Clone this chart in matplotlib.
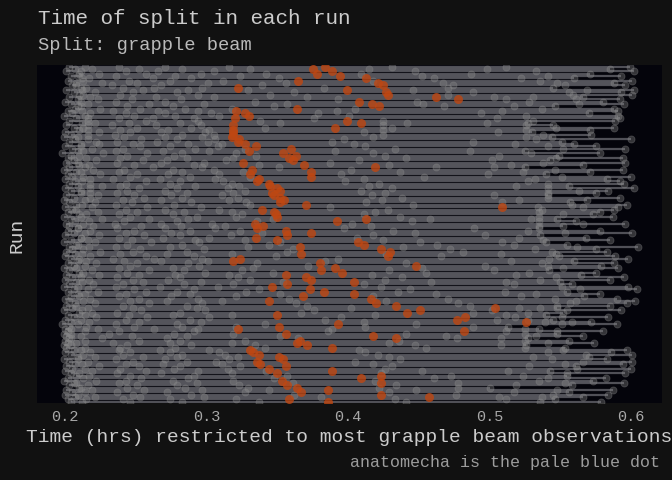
import matplotlib
matplotlib.use("Agg")
import matplotlib.pyplot as plt

plt.rcParams["font.family"] = ["Liberation Mono", "DejaVu Sans Mono"]

# time (hrs) of the grapple beam split, one value per run (top to bottom)
grapple = [
    .384, .375, .389, .378, .394, .413, .365, .421, .425, .322,
    .399, .427, .428, .462, .478, .408, .417, .422, .364, .321,
    .327, .330, .320, .399, .409, .319, .391, .319, .319, .319,
    .318, .323, .322, .327, .335, .360, .330, .354, .363, .358,
    .361, .326, .369, .419, .332, .374, .331, .374, .337, .336,
    .344, .345, .350, .352, .346, .348, .352, .355, .352, .370,
    .509, .339, .348, .349, .350, .413, .392, .334, .340, .336,
    .356, .374, .357, .335, .350, .407, .411, .366, .423, .430,
    .367, .428, .324, .319, .380, .448, .391, .381, .396, .356,
    .370, .374, .404, .357, .346, .373, .383, .404, .368, .416,
    .344, .420, .434, .504, .451, .442, .350, .483, .477, .526,
    .393, .351, .322, .482, .356, .418, .434, .366, .364, .371,
    .389, .331, .333, .337, .351, .354, .336, .338, .356, .344,
    .389, .350, .423, .409, .353, .423, .357, .364, .386, .367,
    .423, .457, .358, .386,
]

# first and last visible split of each run
starts = [
    .203, .207, .201, .210, .204, .212, .202, .208, .205, .211,
    .201, .206, .213, .203, .209, .200, .204, .211, .207, .202,
    .205, .199, .208, .203, .212, .201, .206, .210, .200, .204,
    .199, .207, .203, .211, .200, .205, .209, .198, .204, .202,
    .206, .201, .210, .203, .199, .208, .202, .205, .200, .207,
    .203, .209, .200, .204, .211, .201, .206, .199, .203, .208,
    .200, .205, .202, .210, .199, .204, .207, .201, .203, .209,
    .202, .206, .200, .211, .204, .199, .208, .203, .205, .201,
    .207, .200, .204, .209, .202, .206, .199, .203, .210, .201,
    .205, .200, .208, .203, .199, .206, .202, .209, .204, .200,
    .203, .207, .201, .205, .199, .210, .202, .206, .200, .204,
    .198, .203, .200, .202, .199, .201, .203, .200, .202, .199,
    .201, .206, .200, .204, .209, .199, .203, .207, .201, .205,
    .200, .204, .208, .202, .199, .206, .203, .210, .201, .205,
    .200, .207, .202, .204,
]
ends = [
    .599, .585, .602, .571, .593, .560, .601, .588, .596, .545,
    .602, .593, .601, .566, .592, .580, .595, .546, .588, .591,
    .570, .591, .592, .589, .527, .545, .588, .571, .530, .572,
    .544, .600, .551, .560, .575, .596, .525, .578, .549, .594,
    .543, .596, .566, .525, .594, .571, .540, .600, .583, .592,
    .595, .556, .602, .584, .575, .541, .592, .569, .557, .597,
    .591, .588, .578, .573, .587, .548, .561, .596, .552, .535,
    .578, .601, .536, .568, .585, .540, .555, .605, .575, .583,
    .547, .589, .598, .560, .588, .579, .591, .542, .575, .565,
    .595, .585, .550, .558, .598, .604, .555, .578, .567, .590,
    .603, .597, .585, .548, .593, .552, .540, .584, .545, .572,
    .590, .513, .535, .580, .548, .566, .527, .556, .574, .526,
    .553, .597, .586, .601, .570, .583, .601, .594, .561, .600,
    .543, .596, .555, .582, .573, .595, .558, .500, .587, .556,
    .584, .566, .546, .579,
]

# other splits in between
other_splits = [
    [.214, .238, .271, .316, .431, .512], [.219, .252, .283, .331, .415, .498],
    [.211, .243, .266, .305, .447, .533], [.224, .257, .296, .342, .409, .487],
    [.209, .236, .278, .324, .452, .541], [.217, .262, .289, .351, .461, .522],
    [.213, .245, .274, .312, .418, .536], [.226, .251, .301, .356, .467, .548],
    [.208, .233, .268, .339, .474, .553], [.215, .241, .263, .297, .383, .471],
    [.212, .255, .287, .329, .446, .569], [.221, .248, .279, .362, .488, .556],
    [.210, .239, .294, .345, .471, .559], [.218, .264, .305, .371, .503, .531],
    [.223, .247, .282, .393, .512, .561], [.211, .236, .271, .334, .449, .528],
    [.216, .259, .298, .357, .453, .563], [.209, .244, .276, .348, .468, .517],
    [.225, .253, .285, .318, .405, .537], [.212, .234, .266, .294, .392, .509],
    [.218, .243, .271, .303, .379, .494], [.214, .249, .278, .309, .401, .526],
    [.216, .238, .262, .291, .376, .505], [.216, .257, .294, .338, .425, .531],
    [.221, .245, .281, .352, .442, .498], [.216, .233, .264, .296, .425, .526],
    [.213, .251, .289, .341, .431, .547], [.216, .239, .273, .302, .425, .526],
    [.224, .246, .268, .299, .411, .506], [.216, .235, .283, .305, .425, .538],
    [.209, .242, .271, .297, .418, .526], [.216, .254, .279, .306, .397, .533],
    [.222, .237, .265, .301, .389, .488], [.224, .248, .287, .311, .404, .518],
    [.211, .253, .274, .308, .412, .541], [.219, .241, .292, .327, .433, .552],
    [.213, .236, .269, .302, .391, .486], [.227, .258, .283, .321, .418, .529],
    [.210, .244, .277, .335, .426, .507], [.215, .239, .286, .319, .441, .547],
    [.222, .255, .272, .314, .408, .502], [.209, .237, .268, .298, .387, .538],
    [.217, .249, .291, .337, .429, .515], [.214, .262, .297, .351, .462, .503],
    [.220, .242, .276, .305, .402, .546], [.211, .238, .283, .326, .437, .524],
    [.225, .251, .273, .309, .395, .499], [.213, .246, .288, .331, .454, .551],
    [.218, .234, .267, .306, .411, .532], [.212, .257, .281, .312, .398, .527],
    [.218, .243, .274, .318, .422, .541], [.226, .239, .292, .323, .415, .519],
    [.218, .252, .279, .315, .431, .541], [.211, .244, .271, .327, .409, .563],
    [.218, .237, .286, .319, .426, .541], [.223, .249, .275, .311, .417, .503],
    [.218, .256, .283, .322, .438, .541], [.214, .241, .268, .316, .424, .521],
    [.221, .247, .289, .328, .413, .509], [.212, .236, .277, .331, .446, .558],
    [.219, .258, .296, .387, .534, .566], [.208, .243, .271, .309, .428, .537],
    [.223, .251, .284, .318, .419, .535], [.215, .238, .276, .325, .411, .552],
    [.211, .246, .293, .321, .437, .535], [.226, .259, .287, .347, .458, .529],
    [.217, .242, .279, .336, .445, .535], [.213, .235, .268, .304, .403, .566],
    [.220, .254, .282, .313, .416, .535], [.209, .237, .271, .306, .397, .489],
    [.218, .249, .288, .324, .432, .527], [.214, .243, .275, .339, .447, .553],
    [.224, .256, .281, .317, .418, .497], [.211, .238, .269, .302, .406, .521],
    [.216, .247, .292, .327, .425, .538], [.221, .261, .295, .352, .451, .509],
    [.209, .244, .283, .344, .463, .517], [.217, .236, .274, .329, .439, .562],
    [.213, .253, .298, .361, .472, .532], [.225, .248, .286, .357, .481, .544],
    [.212, .239, .272, .318, .427, .508], [.218, .257, .291, .349, .466, .549],
    [.210, .234, .263, .297, .393, .542], [.215, .242, .268, .301, .384, .515],
    [.222, .251, .287, .336, .441, .537], [.214, .246, .295, .372, .497, .541],
    [.208, .238, .276, .333, .452, .552], [.219, .259, .284, .325, .429, .503],
    [.213, .244, .299, .347, .455, .528], [.224, .252, .278, .316, .417, .519],
    [.211, .237, .281, .322, .438, .547], [.217, .248, .273, .331, .426, .536],
    [.212, .255, .296, .354, .459, .512], [.220, .241, .284, .319, .411, .517],
    [.209, .236, .267, .308, .423, .551], [.216, .249, .291, .337, .444, .564],
    [.223, .257, .279, .328, .435, .511], [.214, .243, .288, .352, .462, .533],
    [.210, .238, .275, .321, .418, .522], [.218, .252, .294, .358, .471, .546],
    [.213, .246, .272, .311, .427, .561], [.221, .259, .297, .363, .478, .557],
    [.208, .241, .286, .371, .486, .548], [.216, .248, .293, .402, .521, .536],
    [.212, .254, .299, .376, .502, .555], [.219, .237, .281, .367, .488, .527],
    [.214, .245, .276, .318, .419, .512], [.222, .258, .302, .395, .518, .551],
    [.211, .243, .288, .384, .505, .527], [.217, .252, .296, .411, .539, .558],
    [.209, .236, .279, .341, .448, .551], [.215, .249, .283, .321, .412, .488],
    [.204, .223, .263, .294, .389, .525], [.214, .238, .291, .386, .512, .548],
    [.204, .231, .277, .319, .441, .525], [.211, .247, .286, .352, .469, .533],
    [.204, .226, .272, .365, .477, .508], [.214, .252, .281, .327, .436, .525],
    [.208, .234, .274, .318, .429, .541], [.204, .244, .289, .334, .447, .508],
    [.214, .239, .278, .341, .455, .525], [.211, .238, .267, .302, .408, .552],
    [.218, .246, .274, .309, .412, .541], [.213, .241, .283, .313, .421, .568],
    [.221, .255, .279, .322, .429, .531], [.209, .236, .271, .316, .437, .544],
    [.216, .248, .286, .307, .405, .566], [.212, .243, .269, .311, .418, .553],
    [.224, .252, .281, .324, .431, .528], [.214, .239, .277, .315, .426, .562],
    [.219, .257, .294, .342, .452, .513], [.210, .237, .268, .318, .423, .555],
    [.217, .246, .291, .357, .473, .524], [.213, .254, .287, .348, .461, .541],
    [.222, .243, .276, .319, .419, .535], [.208, .238, .293, .361, .478, .553],
    [.216, .251, .279, .323, .434, .519], [.211, .244, .285, .329, .422, .478],
    [.219, .256, .297, .344, .448, .548], [.214, .237, .272, .327, .429, .517],
    [.209, .248, .289, .362, .476, .545], [.221, .253, .298, .381, .507, .537],
    [.215, .241, .274, .321, .433, .512], [.212, .246, .283, .337, .441, .536],
]

xticks = [0.2, 0.3, 0.4, 0.5, 0.6]
n = len(grapple)
runs = list(range(1, n + 1))

fig = plt.figure(figsize=(6.72, 4.8), dpi=100, facecolor="#111111")
ax = fig.add_axes([37 / 672, 1 - 403 / 480, 625 / 672, 338 / 480])
ax.set_facecolor("#04040b")

ax.hlines(runs, starts, ends, color="#9c9ca4", lw=1.6, alpha=0.5, zorder=1)

gx, gy = [], []
for r, s, e, mids in zip(runs, starts, ends, other_splits):
    for t in [s] + mids + [e]:
        gx.append(t)
        gy.append(r)
ax.scatter(gx, gy, s=26, color="#8e8e8e", alpha=0.35, lw=0.6, zorder=2)
ax.scatter(grapple, runs, s=42, color="#bf4712", alpha=0.8, lw=0, zorder=3)

ax.set_xlim(0.1802, 0.6219)
ax.set_ylim(n + 0.6, 0.3)
ax.set_xticks(xticks)
ax.set_xticklabels([f"{t:.1f}" for t in xticks])
ax.set_yticks([])
ax.tick_params(axis="x", length=0, pad=5, labelsize=11, labelcolor="#a8a8a8")
for sp in ax.spines.values():
    sp.set_visible(False)

fig.text(38 / 672, 1 - 18 / 480, "Time of split in each run", fontsize=15,
         color="#cccccc", va="center", ha="left")
fig.text(38 / 672, 1 - 46 / 480, "Split: grapple beam", fontsize=13.5,
         color="#bababa", va="center", ha="left")
fig.text(349.5 / 672, 1 - 437 / 480,
         "Time (hrs) restricted to most grapple beam observations",
         fontsize=14, color="#cccccc", va="center", ha="center")
fig.text(17 / 672, 1 - 235 / 480, "Run", fontsize=14, color="#cccccc",
         rotation=90, va="center", ha="center")
fig.text(660 / 672, 1 - 462 / 480, "anatomecha is the pale blue dot",
         fontsize=12, color="#9c9c9c", va="center", ha="right")

fig.savefig("out.png", dpi=100, facecolor=fig.get_facecolor())
